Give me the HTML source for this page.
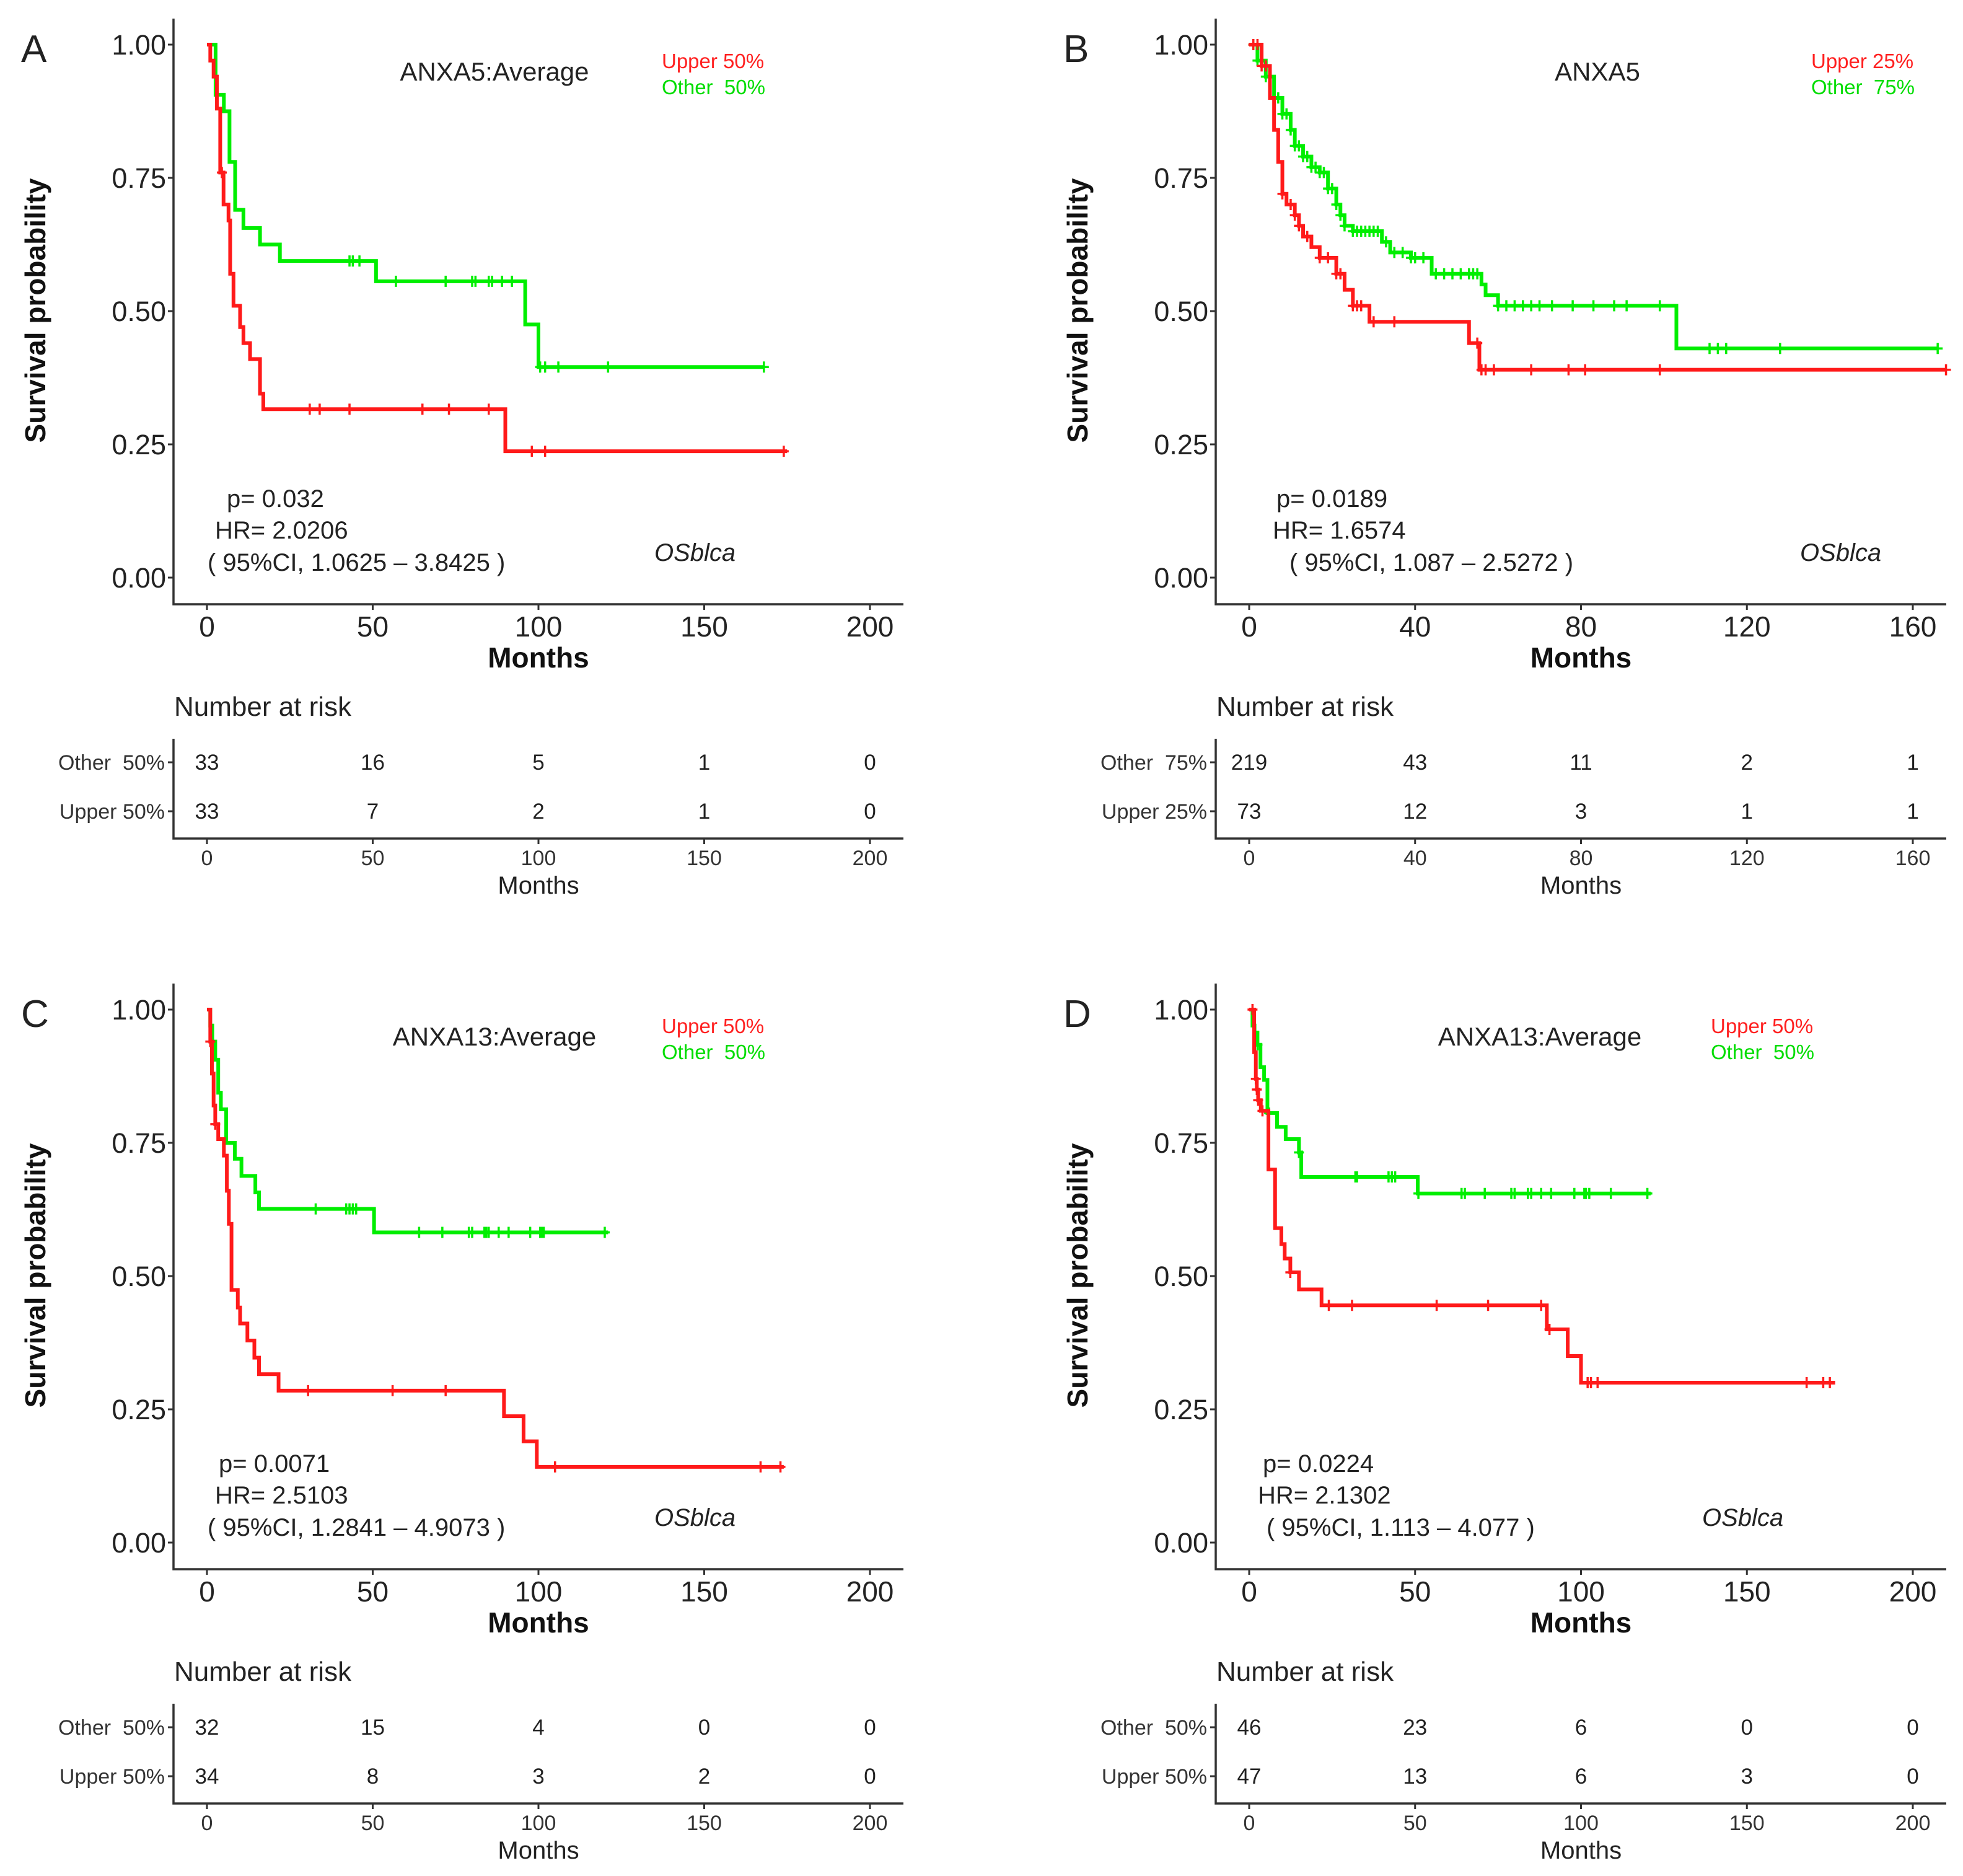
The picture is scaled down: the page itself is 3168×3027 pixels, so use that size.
<!DOCTYPE html>
<html><head><meta charset="utf-8">
<style>
html,body{margin:0;padding:0;background:#fff;}
svg{display:block;font-family:"Liberation Sans",Arial,sans-serif;}
</style></head>
<body>
<svg id="fig" width="3168" height="3027" viewBox="0 0 3168 3027" xmlns="http://www.w3.org/2000/svg"></svg>
<script>
// ---------- Panel A data ----------
const aGreenT = [2.6,5.1,6.8,8.5,11,16,22,51,96,100];
const aGreenS = [0.906,0.875,0.78,0.69,0.656,0.625,0.594,0.556,0.475,0.395];
const aGreenC = [43,44,46,57,72,80,81,85,86,89,92,100.5,102,106,121,168];
const aGreenEnd = 168;
const aRedT = [1,2,3,4,5,6.5,7,8,10,11,13,16,17,90];
const aRedS = [0.97,0.94,0.88,0.76,0.70,0.67,0.57,0.51,0.47,0.44,0.41,0.345,0.316,0.237];
const aRedC = [4.5,31,34,43,65,73,85,98,102,174];
const aRedEnd = 175;
const aRiskOther = ["33","16","5","1","0"];
const aRiskUpper = ["33","7","2","1","0"];
// ---------- Panel B data ----------
const bGreenT = [2,4,6,8,10,11,13,15,17,19,21,22,23,25,32,34,39,44,56,57,60,103];
const bGreenS = [0.97,0.94,0.90,0.87,0.84,0.81,0.79,0.77,0.76,0.73,0.70,0.68,0.66,0.65,0.63,0.61,0.60,0.57,0.55,0.53,0.51,0.43];
const bGreenC = [1,2,3,4,5,6,7,8,9,10,11,12,13,14,15,16,17,18,19,20,21,22,23,25,26,27,28,29,30,31,33,35,37,39,40,42,45,47,49,51,53,54,55,60,62,64,66,68,70,73,78,83,88,91,99,111,113,115,128,166];
const bGreenEnd = 166;
const bRedT = [3,5,6,7,8,9,11,12,13,15,17,21,23,25,29,53,55.5];
const bRedS = [0.96,0.90,0.84,0.78,0.72,0.70,0.68,0.66,0.64,0.62,0.60,0.57,0.54,0.51,0.48,0.44,0.39];
const bRedC = [1,2,3,4,8,10,11,12,14,17,19,21,22,25,26,27,30,35,55,56,57,59,68,77,81,99,168];
const bRedEnd = 168;
const bRiskOther = ["219","43","11","2","1"];
const bRiskUpper = ["73","12","3","1","1"];
// ---------- Panel C data ----------
const cGreenT = [1,1.6,2.5,3.4,4.2,5.8,8.4,10.4,14.6,15.7,50.4];
const cGreenS = [0.97,0.94,0.906,0.844,0.813,0.75,0.72,0.688,0.657,0.626,0.582];
const cGreenC = [32.8,42,43,44,45,64,71,79,80,83.7,84.3,85,88,91,97.5,100.5,101,101.6,120];
const cGreenEnd = 121;
const cRedT = [1,1.5,2,2.5,3.4,5.1,6,6.6,7.4,9.3,10,12.2,14.3,15.7,21.6,89.6,95.5,99.5];
const cRedS = [0.94,0.88,0.82,0.785,0.757,0.726,0.66,0.598,0.474,0.441,0.411,0.379,0.347,0.316,0.285,0.237,0.19,0.142];
const cRedC = [1,2.5,30.5,56,72,105,167,173];
const cRedEnd = 174;
const cRiskOther = ["32","15","4","0","0"];
const cRiskUpper = ["34","8","3","2","0"];
// ---------- Panel D data ----------
const dGreenT = [1,1.6,2.5,3.4,4.5,5.5,8.4,11,15,15.7,50.8];
const dGreenS = [0.97,0.957,0.934,0.892,0.868,0.806,0.78,0.757,0.732,0.686,0.655];
const dGreenC = [2.5,6,15,32,32.5,42,43,44,51,64,65,71,79,80,84,85,88,91,98,101,101.5,102.5,109,120];
const dGreenEnd = 121;
const dRedT = [1.5,2,2.3,2.7,3.5,5.8,7.8,9.7,10.7,12.4,15,21.8,89.7,96,100];
const dRedS = [0.92,0.87,0.85,0.83,0.81,0.70,0.59,0.56,0.533,0.507,0.475,0.445,0.40,0.35,0.30];
const dRedC = [1,2,2.3,2.7,4,12.4,24,31,56.5,72,88,90.5,102,103,105,168,173,175];
const dRedEnd = 176.6;
const dRiskOther = ["46","23","6","0","0"];
const dRiskUpper = ["47","13","6","3","0"];
// ---------- Shared tick labels ----------
const yTicks = [0,0.25,0.5,0.75,1];
const yTickLabels = ["0.00","0.25","0.50","0.75","1.00"];
const xTicks200 = [0,50,100,150,200];
const xTicks160 = [0,40,80,120,160];

const NS = "http://www.w3.org/2000/svg";
const svg = document.getElementById("fig");
function mk(tag, attrs, parent, text){
  const e = document.createElementNS(NS, tag);
  for (const k in attrs) e.setAttribute(k, attrs[k]);
  if (text !== undefined) e.textContent = text;
  (parent||svg).appendChild(e);
  return e;
}
function stepAt(T,S,t){ let s=1; for(let i=0;i<T.length;i++){ if(T[i]<=t) s=S[i]; } return s; }

function panel(p){
  const g = mk("g",{});
  
  
  const ox = p.ox, oy = p.oy;
  const axL = 280+ox, axB = 975+oy, axT = 30+oy, axR = p.axR;
  const x = t => p.x0 + t*p.pxPer;
  const y = s => 932+oy - s*860;
  // panel letter
  const lt = mk("text",{x:34+ox,y:100+oy,"font-size":62,fill:"#222"},g,p.letter);
  
  
  // axes
  const ax = mk("path",{d:`M${axL},${axT}V${axB}H${axR}`,stroke:"#333","stroke-width":3.5,fill:"none"},g);
  
  
  yTicks.forEach((v,i)=>{
    mk("line",{x1:axL-9,x2:axL,y1:y(v),y2:y(v),stroke:"#333","stroke-width":3},g);
    const tl = mk("text",{x:axL-12,y:y(v)+16,"font-size":45,"text-anchor":"end",fill:"#222"},g,yTickLabels[i]);
    
    
  });
  p.xt.forEach(v=>{
    mk("line",{x1:x(v),x2:x(v),y1:axB,y2:axB+9,stroke:"#333","stroke-width":3},g);
    const tl = mk("text",{x:x(v),y:1027+oy,"font-size":46,"text-anchor":"middle",fill:"#222"},g,String(v));
    
    
  });
  const xt = mk("text",{x:x(p.xt[2]),y:1077+oy,"font-size":46,"font-weight":"bold","text-anchor":"middle",fill:"#111"},g,"Months");
  
  
  const yt = mk("text",{x:0,y:0,"font-size":46,"font-weight":"bold","text-anchor":"middle",fill:"#111",transform:`translate(${73+ox},${501+oy}) rotate(-90)`},g,"Survival probability");
  
  
  // curves
  function curve(T,S,C,end,color,name){
    let d = `M${x(0)},${y(1)}`; let prev=1;
    for(let i=0;i<T.length;i++){ d += `H${x(T[i])}V${y(S[i])}`; prev=S[i]; }
    d += `H${x(end)}`;
    const c = mk("path",{d:d,stroke:color,"stroke-width":6,fill:"none","stroke-linejoin":"miter"},g);
    
    
    C.forEach(t=>{
      const cx = x(t), cy = y(stepAt(T,S,t));
      const m = mk("path",{d:`M${cx-8},${cy}H${cx+8}M${cx},${cy-9}V${cy+9}`,stroke:color,"stroke-width":3.5},g);
      
      
    });
  }
  curve(p.gT,p.gS,p.gC,p.gEnd,"#00ee00","other-group");
  curve(p.rT,p.rS,p.rC,p.rEnd,"#ff1a1a","upper-group");
  // title + legend
  const ti = mk("text",{x:p.titleX,y:130+oy,"font-size":42,"text-anchor":"middle",fill:"#222"},g,p.title);
  
  
  const l1 = mk("text",{x:p.legX,y:110+oy,"font-size":33,fill:"#ff2020"},g,p.upLab);
  
  
  const l2 = mk("text",{x:p.legX,y:152+oy,"font-size":33,fill:"#00dd00","xml:space":"preserve"},g,p.otLab);
  
  
  l2.style.whiteSpace="pre";
  // stats
  [[p.pX,p.pText,818],[p.hrX,p.hrText,869],[p.ciX,p.ciText,921]].forEach(a=>{
    const s = mk("text",{x:a[0],y:a[2]+oy,"font-size":40,fill:"#222"},g,a[1]);
    s.style.whiteSpace="pre";
    
    
  });
  const os = mk("text",{x:p.osX,y:905+oy,"font-size":40,"font-style":"italic",fill:"#222"},g,"OSblca");
  
  
  // risk table
  const nr = mk("text",{x:281+ox,y:1155+oy,"font-size":44,fill:"#222"},g,"Number at risk");
  
  
  mk("path",{d:`M${axL},${1192+oy}V${1353+oy}H${axR}`,stroke:"#333","stroke-width":3.5,fill:"none"},g);
  const rows = [[p.otLab,p.riskO,1230],[p.upLab,p.riskU,1309]];
  rows.forEach(r=>{
    mk("line",{x1:axL-9,x2:axL,y1:r[2]+oy,y2:r[2]+oy,stroke:"#333","stroke-width":3},g);
    const rl = mk("text",{x:axL-14,y:r[2]+oy+12,"font-size":34,"text-anchor":"end",fill:"#333"},g,r[0]);
    rl.style.whiteSpace="pre";
    
    
    r[1].forEach((v,i)=>{
      const n = mk("text",{x:x(p.xt[i]),y:r[2]+oy+12,"font-size":35,"text-anchor":"middle",fill:"#222"},g,v);
      
      
    });
  });
  p.xt.forEach(v=>{
    mk("line",{x1:x(v),x2:x(v),y1:1353+oy,y2:1362+oy,stroke:"#333","stroke-width":3},g);
    const tl = mk("text",{x:x(v),y:1396+oy,"font-size":34,"text-anchor":"middle",fill:"#333"},g,String(v));
    
    
  });
  const rm = mk("text",{x:x(p.xt[2]),y:1442+oy,"font-size":40,"text-anchor":"middle",fill:"#222"},g,"Months");
  
  
}

panel({letter:"A",ox:0,oy:0,axR:1458,x0:334,pxPer:1070/200,xt:xTicks200,
  gT:aGreenT,gS:aGreenS,gC:aGreenC,gEnd:aGreenEnd,rT:aRedT,rS:aRedS,rC:aRedC,rEnd:aRedEnd,
  title:"ANXA5:Average",titleX:798,legX:1068,upLab:"Upper 50%",otLab:"Other  50%",
  pX:366,pText:"p= 0.032",hrX:347,hrText:"HR= 2.0206",ciX:335,ciText:"( 95%CI, 1.0625 – 3.8425 )",osX:1056,
  riskO:aRiskOther,riskU:aRiskUpper});
panel({letter:"B",ox:1682,oy:0,axR:3141,x0:2016,pxPer:1071/160,xt:xTicks160,
  gT:bGreenT,gS:bGreenS,gC:bGreenC,gEnd:bGreenEnd,rT:bRedT,rS:bRedS,rC:bRedC,rEnd:bRedEnd,
  title:"ANXA5",titleX:2578,legX:2923,upLab:"Upper 25%",otLab:"Other  75%",
  pX:2060,pText:"p= 0.0189",hrX:2054,hrText:"HR= 1.6574",ciX:2081,ciText:"( 95%CI, 1.087 – 2.5272 )",osX:2905,
  riskO:bRiskOther,riskU:bRiskUpper});
panel({letter:"C",ox:0,oy:1557,axR:1458,x0:334,pxPer:1070/200,xt:xTicks200,
  gT:cGreenT,gS:cGreenS,gC:cGreenC,gEnd:cGreenEnd,rT:cRedT,rS:cRedS,rC:cRedC,rEnd:cRedEnd,
  title:"ANXA13:Average",titleX:798,legX:1068,upLab:"Upper 50%",otLab:"Other  50%",
  pX:353,pText:"p= 0.0071",hrX:347,hrText:"HR= 2.5103",ciX:335,ciText:"( 95%CI, 1.2841 – 4.9073 )",osX:1056,
  riskO:cRiskOther,riskU:cRiskUpper});
panel({letter:"D",ox:1682,oy:1557,axR:3141,x0:2016,pxPer:1071/200,xt:xTicks200,
  gT:dGreenT,gS:dGreenS,gC:dGreenC,gEnd:dGreenEnd,rT:dRedT,rS:dRedS,rC:dRedC,rEnd:dRedEnd,
  title:"ANXA13:Average",titleX:2485,legX:2761,upLab:"Upper 50%",otLab:"Other  50%",
  pX:2038,pText:"p= 0.0224",hrX:2030,hrText:"HR= 2.1302",ciX:2044,ciText:"( 95%CI, 1.113 – 4.077 )",osX:2747,
  riskO:dRiskOther,riskU:dRiskUpper});
</script>
</body></html>
